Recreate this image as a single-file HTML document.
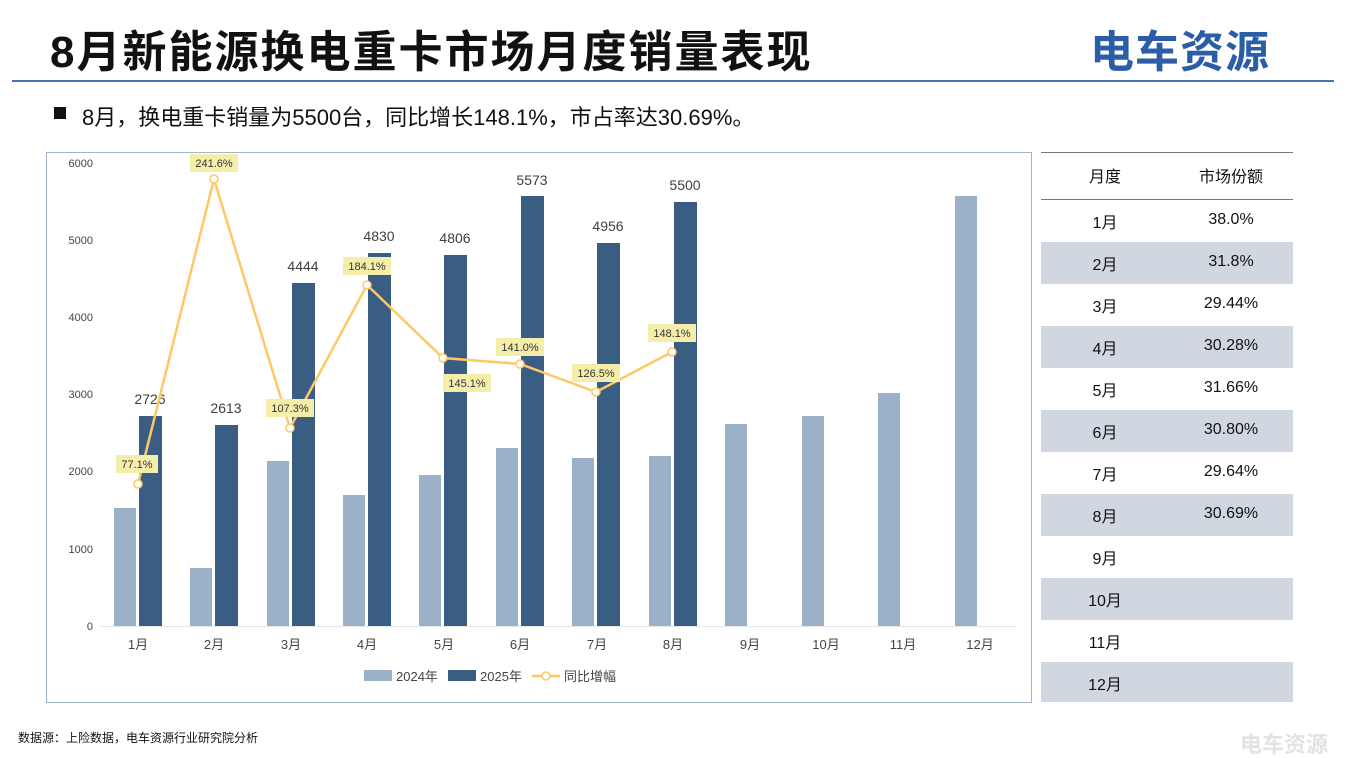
<!DOCTYPE html>
<html><head><meta charset="utf-8"><style>
body{margin:0;width:1348px;height:758px;background:#fff;font-family:"Liberation Sans","Noto Sans CJK SC",sans-serif;position:relative;overflow:hidden}
.t{position:absolute;white-space:nowrap}
</style></head><body>
<div class="t" style="left:50px;top:16px;font-size:44px;font-weight:bold;color:#111;letter-spacing:2px">8月新能源换电重卡市场月度销量表现</div>
<div class="t" style="left:1090px;top:16px;font-size:44px;font-weight:bold;color:#2b5ea6;letter-spacing:1px">电车资源</div>
<div style="position:absolute;left:12px;top:80px;width:1322px;height:2px;background:#4a72b8"></div>
<div style="position:absolute;left:54px;top:107px;width:12px;height:12px;background:#111"></div>
<div class="t" style="left:82px;top:100px;font-size:22px;color:#111">8月，换电重卡销量为5500台，同比增长148.1%，市占率达30.69%。</div>
<div style="position:absolute;left:46px;top:152px;width:984px;height:549px;border:1px solid #9fb4cf"></div>
<svg style="position:absolute;left:0;top:0" width="1348" height="758" font-family="Liberation Sans, Noto Sans CJK SC, sans-serif">
<g font-size="11" fill="#444" text-anchor="end">
<text x="93" y="167">6000</text><text x="93" y="244">5000</text><text x="93" y="321">4000</text><text x="93" y="398">3000</text><text x="93" y="475">2000</text><text x="93" y="553">1000</text><text x="93" y="630">0</text></g>
<line x1="100" y1="626.5" x2="1016" y2="626.5" stroke="#e6e6e6"/>
<g fill="#9bb1c7">
<rect x="114" y="508" width="22" height="118"/><rect x="190" y="568" width="22" height="58"/><rect x="267" y="461" width="22" height="165"/><rect x="343" y="495" width="22" height="131"/><rect x="419" y="475" width="22" height="151"/><rect x="496" y="448" width="22" height="178"/><rect x="572" y="458" width="22" height="168"/><rect x="649" y="456" width="22" height="170"/><rect x="725" y="424" width="22" height="202"/><rect x="802" y="416" width="22" height="210"/><rect x="878" y="393" width="22" height="233"/><rect x="955" y="196" width="22" height="430"/></g>
<g fill="#3a5e83">
<rect x="139" y="416" width="23" height="210"/><rect x="215" y="425" width="23" height="201"/><rect x="292" y="283" width="23" height="343"/><rect x="368" y="253" width="23" height="373"/><rect x="444" y="255" width="23" height="371"/><rect x="521" y="196" width="23" height="430"/><rect x="597" y="243" width="23" height="383"/><rect x="674" y="202" width="23" height="424"/></g>
<g font-size="14" fill="#404040" text-anchor="middle">
<text x="150" y="404">2726</text><text x="226" y="413">2613</text><text x="303" y="271">4444</text><text x="379" y="241">4830</text><text x="455" y="243">4806</text><text x="532" y="185">5573</text><text x="608" y="231">4956</text><text x="685" y="190">5500</text></g>
<polyline points="138,484 214,179 290,428 367,285 443,358 520,364 596,392 672,352" fill="none" stroke="#ffc866" stroke-width="2.5"/>
<g fill="#fff" stroke="#ffc866" stroke-width="1.5">
<circle cx="138" cy="484" r="4"/><circle cx="214" cy="179" r="4"/><circle cx="290" cy="428" r="4"/><circle cx="367" cy="285" r="4"/><circle cx="443" cy="358" r="4"/><circle cx="520" cy="364" r="4"/><circle cx="596" cy="392" r="4"/><circle cx="672" cy="352" r="4"/></g>
<g fill="#f5eeaa">
<rect x="116" y="455" width="42" height="18"/><rect x="190" y="154" width="48" height="18"/><rect x="266" y="399" width="48" height="18"/><rect x="343" y="257" width="48" height="18"/><rect x="443" y="374" width="48" height="18"/><rect x="496" y="338" width="48" height="18"/><rect x="572" y="364" width="48" height="18"/><rect x="648" y="324" width="48" height="18"/></g>
<g font-size="11" fill="#333" text-anchor="middle">
<text x="137" y="468">77.1%</text><text x="214" y="167">241.6%</text><text x="290" y="412">107.3%</text><text x="367" y="270">184.1%</text><text x="467" y="387">145.1%</text><text x="520" y="351">141.0%</text><text x="596" y="377">126.5%</text><text x="672" y="337">148.1%</text></g>
<g font-size="13" fill="#444" text-anchor="middle">
<text x="138" y="649">1月</text><text x="214" y="649">2月</text><text x="291" y="649">3月</text><text x="367" y="649">4月</text><text x="444" y="649">5月</text><text x="520" y="649">6月</text><text x="597" y="649">7月</text><text x="673" y="649">8月</text><text x="750" y="649">9月</text><text x="826" y="649">10月</text><text x="903" y="649">11月</text><text x="980" y="649">12月</text></g>
<rect x="364" y="670" width="28" height="11" fill="#9bb1c7"/><text x="396" y="681" font-size="13" fill="#444">2024年</text>
<rect x="448" y="670" width="28" height="11" fill="#3a5e83"/><text x="480" y="681" font-size="13" fill="#444">2025年</text>
<line x1="532" y1="676" x2="560" y2="676" stroke="#ffc866" stroke-width="2.5"/><circle cx="546" cy="676" r="4" fill="#fff" stroke="#ffc866" stroke-width="1.5"/><text x="564" y="681" font-size="13" fill="#444">同比增幅</text>
<line x1="1041" y1="152.5" x2="1293" y2="152.5" stroke="#777"/>
<line x1="1041" y1="199.5" x2="1293" y2="199.5" stroke="#777"/>
<g fill="#d1d7e0">
<rect x="1041" y="242" width="252" height="42"/><rect x="1041" y="326" width="252" height="42"/><rect x="1041" y="410" width="252" height="42"/><rect x="1041" y="494" width="252" height="42"/><rect x="1041" y="578" width="252" height="42"/><rect x="1041" y="662" width="252" height="40"/></g>
<g font-size="16" fill="#111" text-anchor="middle">
<text x="1105" y="182">月度</text><text x="1231" y="182">市场份额</text>
<text x="1105" y="228">1月</text><text x="1105" y="270">2月</text><text x="1105" y="312">3月</text><text x="1105" y="354">4月</text><text x="1105" y="396">5月</text><text x="1105" y="438">6月</text><text x="1105" y="480">7月</text><text x="1105" y="522">8月</text><text x="1105" y="564">9月</text><text x="1105" y="606">10月</text><text x="1105" y="648">11月</text><text x="1105" y="690">12月</text>
<text x="1231" y="224">38.0%</text><text x="1231" y="266">31.8%</text><text x="1231" y="308">29.44%</text><text x="1231" y="350">30.28%</text><text x="1231" y="392">31.66%</text><text x="1231" y="434">30.80%</text><text x="1231" y="476">29.64%</text><text x="1231" y="518">30.69%</text></g>
<text x="18" y="742" font-size="12" fill="#111">数据源：上险数据，电车资源行业研究院分析</text>
<text x="1240" y="752" font-size="22" font-weight="bold" fill="#e3e3e3">电车资源</text>
</svg>
</body></html>
